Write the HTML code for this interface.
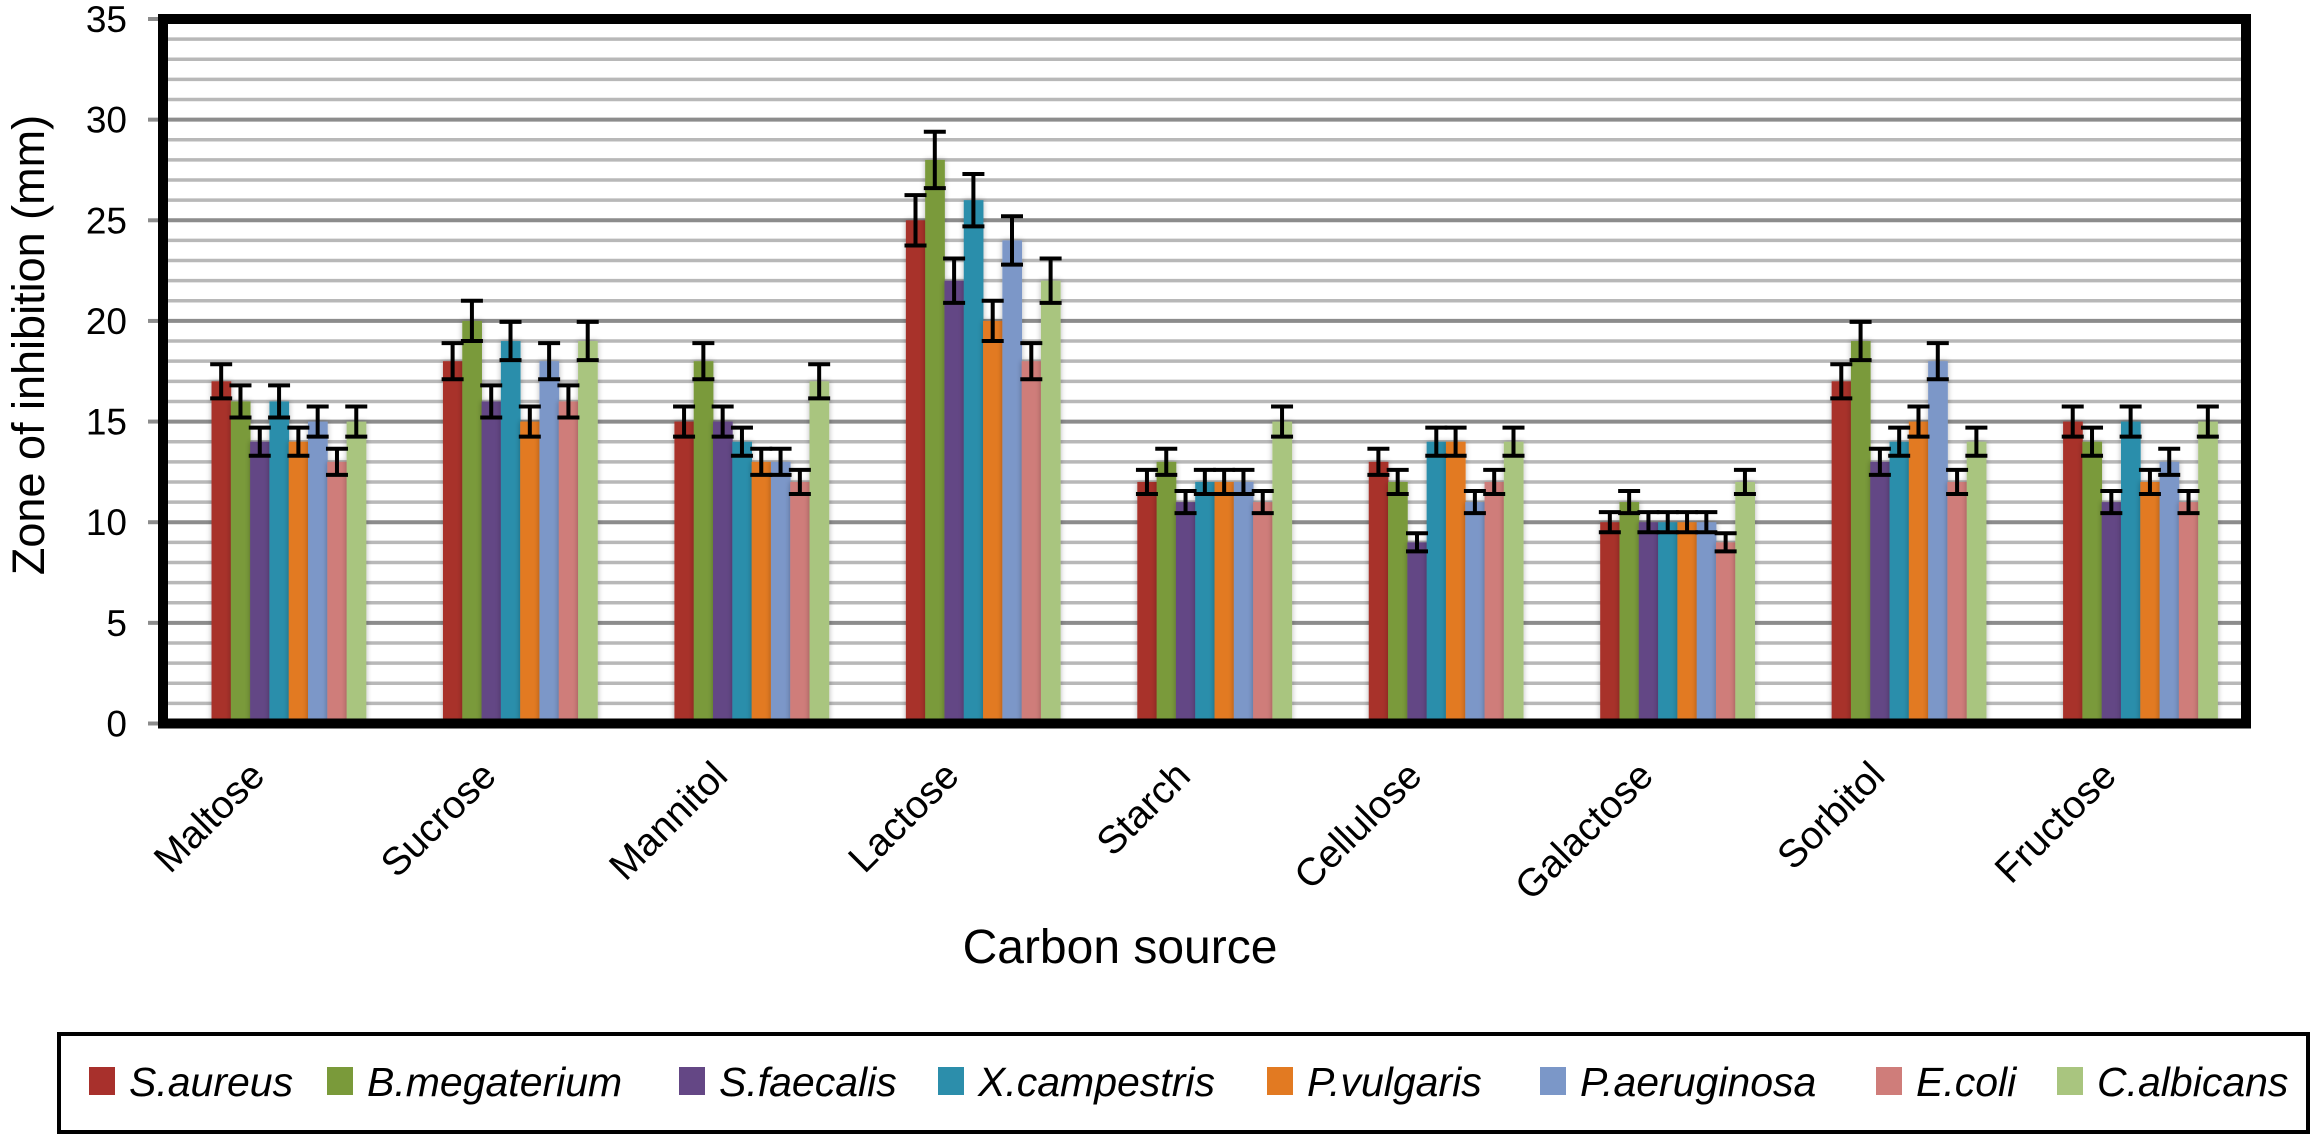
<!DOCTYPE html>
<html><head><meta charset="utf-8"><style>
html,body{margin:0;padding:0;background:#fff;}
svg{display:block;font-family:"Liberation Sans",sans-serif;}
</style></head><body>
<svg id="chart" width="2318" height="1134" viewBox="0 0 2318 1134">
<defs>
<filter id="sh" x="-30%" y="-5%" width="160%" height="110%"><feGaussianBlur in="SourceAlpha" stdDeviation="3"/><feComponentTransfer><feFuncA type="linear" slope="0.3"/></feComponentTransfer><feMerge><feMergeNode/><feMergeNode in="SourceGraphic"/></feMerge></filter>
</defs>
<g id="grid"></g><g id="bars"></g><g id="errs"></g><g id="axes"></g><g id="legend"></g>
</svg>
<script>
const categories = ["Maltose","Sucrose","Mannitol","Lactose","Starch","Cellulose","Galactose","Sorbitol","Fructose"];
const seriesNames = ["S.aureus","B.megaterium","S.faecalis","X.campestris","P.vulgaris","P.aeruginosa","E.coli","C.albicans"];
const sAureus     = [17,18,15,25,12,13,10,17,15];
const bMegaterium = [16,20,18,28,13,12,11,19,14];
const sFaecalis   = [14,16,15,22,11,9,10,13,11];
const xCampestris = [16,19,14,26,12,14,10,14,15];
const pVulgaris   = [14,15,13,20,12,14,10,15,12];
const pAeruginosa = [15,18,13,24,12,11,10,18,13];
const eColi       = [13,16,12,18,11,12,9,12,11];
const cAlbicans   = [15,19,17,22,15,14,12,14,15];
const errAureus     = [0.85,0.9,0.75,1.25,0.6,0.65,0.5,0.85,0.75];
const errMegaterium = [0.8,1.0,0.9,1.4,0.65,0.6,0.55,0.95,0.7];
const errFaecalis   = [0.7,0.8,0.75,1.1,0.55,0.45,0.5,0.65,0.55];
const errCampestris = [0.8,0.95,0.7,1.3,0.6,0.7,0.5,0.7,0.75];
const errVulgaris   = [0.7,0.75,0.65,1.0,0.6,0.7,0.5,0.75,0.6];
const errAeruginosa = [0.75,0.9,0.65,1.2,0.6,0.55,0.5,0.9,0.65];
const errColi       = [0.65,0.8,0.6,0.9,0.55,0.6,0.45,0.6,0.55];
const errAlbicans   = [0.75,0.95,0.85,1.1,0.75,0.7,0.6,0.7,0.75];
const yTicks = [0,5,10,15,20,25,30,35];

const series = [sAureus,bMegaterium,sFaecalis,xCampestris,pVulgaris,pAeruginosa,eColi,cAlbicans];
const errs = [errAureus,errMegaterium,errFaecalis,errCampestris,errVulgaris,errAeruginosa,errColi,errAlbicans];
const colors = ["#a8302c","#7a9a3a","#644785","#2c8eab","#e27a22","#7b97c8","#cf7d7a","#a9c57f"];
const NS="http://www.w3.org/2000/svg";
const L=163,R=2246,T=19,B=723.5,YMAX=35;
const y=v=>B-(v/YMAX)*(B-T);
const bandW=(R-L)/categories.length;
const barW=19.3;
const gOff=10;
const x=(ci,si)=>L+bandW*(ci+0.5)+gOff-barW*4+si*barW;
function el(tag,attrs,parent){const e=document.createElementNS(NS,tag);for(const k in attrs)e.setAttribute(k,attrs[k]);parent.appendChild(e);return e;}
const grid=document.getElementById('grid'),bars=document.getElementById('bars'),eg=document.getElementById('errs'),ax=document.getElementById('axes'),lg=document.getElementById('legend');
for(let v=1;v<YMAX;v++){
  const g=el('line',{x1:L,x2:R,y1:y(v),y2:y(v),stroke:v%5===0?'#8c8c8c':'#b8b8b8','stroke-width':v%5===0?4:3.5},grid);
  
  
}
yTicks.forEach(v=>{
  const t=el('line',{x1:148,x2:L,y1:y(v),y2:y(v),stroke:'#8c8c8c','stroke-width':4},ax);
  
  
  const tx=el('text',{x:127,y:y(v)+13,'text-anchor':'end','font-size':37,fill:'#000'},ax);
  tx.textContent=v;
  
  
});
series.forEach((s,si)=>{
  s.forEach((v,ci)=>{
    const r=el('rect',{x:x(ci,si),y:y(v),width:barW+0.4,height:B-y(v),fill:colors[si],filter:'url(#sh)'},bars);
    
    
    const cx=x(ci,si)+barW/2,e=errs[si][ci];
    const g=el('path',{d:`M${cx-11},${y(v+e)}H${cx+11}M${cx},${y(v+e)}V${y(v-e)}M${cx-11},${y(v-e)}H${cx+11}`,stroke:'#000','stroke-width':4,fill:'none'},eg);
    
    
  });
});
const fr=el('rect',{x:L,y:T,width:R-L,height:B-T,fill:'none',stroke:'#000','stroke-width':10},ax);


categories.forEach((c,ci)=>{
  const cx=L+bandW*(ci+0.5)+gOff-22;
  const t=el('text',{x:0,y:0,'text-anchor':'end','font-size':39,fill:'#000',transform:`translate(${cx},${778}) rotate(-45)`},ax);
  t.textContent=c;
  
  
});
const xt=el('text',{x:1120,y:963,'text-anchor':'middle','font-size':48,fill:'#000'},ax);
xt.textContent='Carbon source';


const yt=el('text',{x:0,y:0,'text-anchor':'middle','font-size':45,fill:'#000',transform:'translate(44,345) rotate(-90)'},ax);
yt.textContent='Zone of inhibition (mm)';


const lb=el('rect',{x:59,y:1034,width:2249,height:98,fill:'none',stroke:'#000','stroke-width':4},lg);


const swX=[89,327,679,938,1267,1540,1876,2057];
seriesNames.forEach((n,i)=>{
  const sw=el('rect',{x:swX[i],y:1067,width:26,height:28,fill:colors[i]},lg);
  
  
  const t=el('text',{x:swX[i]+40,y:1096,'font-size':41,'font-style':'italic',fill:'#000'},lg);
  t.textContent=n;
  
  
});
</script>
</body></html>
